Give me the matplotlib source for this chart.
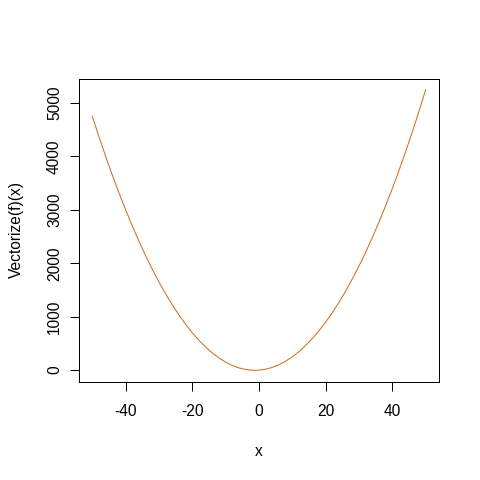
import numpy as np
import matplotlib
matplotlib.use('Agg')
import matplotlib.pyplot as plt

# curve values
x_vals = [-50, -48, -46, -44, -42, -40, -38, -36, -34, -32, -30,
          -28, -26, -24, -22, -20, -18, -16, -14, -12, -10,
          -8, -6, -4, -2, 0, 2, 4, 6, 8, 10,
          12, 14, 16, 18, 20, 22, 24, 26, 28, 30,
          32, 34, 36, 38, 40, 42, 44, 46, 48, 50]
y_vals = [4750, 4368, 4002, 3652, 3318, 3000, 2698, 2412, 2142, 1888, 1650,
          1428, 1222, 1032, 858, 700, 558, 432, 322, 228, 150,
          88, 42, 12, -2, 0, 18, 52, 102, 168, 250,
          348, 462, 592, 738, 900, 1078, 1272, 1482, 1708, 1950,
          2208, 2482, 2772, 3078, 3400, 3738, 4092, 4462, 4848, 5250]
x_ticks = [-40, -20, 0, 20, 40]
y_ticks = [0, 1000, 2000, 3000, 4000, 5000]

plt.rcParams['font.family'] = ['Liberation Sans', 'DejaVu Sans']
plt.rcParams['font.size'] = 15.5
plt.rcParams['axes.unicode_minus'] = False

fig = plt.figure(figsize=(480 / 72, 480 / 72), dpi=72)
ax = fig.add_axes([79 / 480, 1 - 381.5 / 480, 360 / 480, 303 / 480])

ax.plot(x_vals, y_vals, color='#D2691E', linewidth=1)

xr = max(x_vals) - min(x_vals)
yr = max(y_vals) - min(y_vals)
ax.set_xlim(min(x_vals) - 0.04 * xr, max(x_vals) + 0.04 * xr)
ax.set_ylim(min(y_vals) - 0.04 * yr, max(y_vals) + 0.04 * yr)

ax.set_xticks(x_ticks)
ax.set_yticks(y_ticks)
ax.set_yticklabels([str(v) for v in y_ticks], rotation=90, va='center')
ax.tick_params(direction='out', length=9, width=1, labelsize=15.5)
ax.tick_params(axis='x', pad=13)
ax.tick_params(axis='y', pad=8)

for s in ax.spines.values():
    s.set_linewidth(1)

ax.set_xlabel('x', labelpad=25)
ax.set_ylabel('Vectorize(f)(x)', labelpad=23)

fig.savefig('out.png', dpi=72)
